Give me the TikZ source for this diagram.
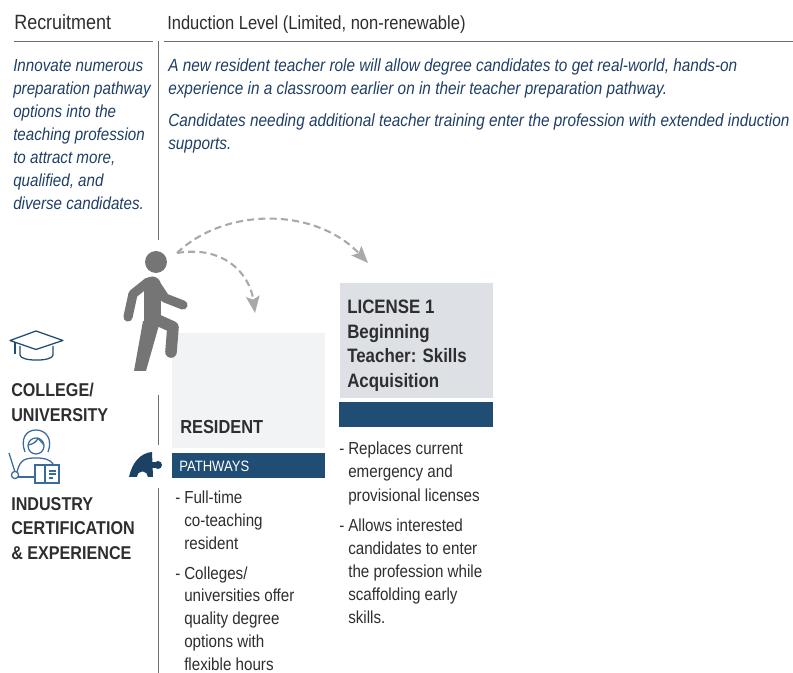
\documentclass[tikz,border=0pt]{standalone}
\usepackage{fontspec}
\setmainfont[FakeStretch=0.87]{Liberation Sans}
\usetikzlibrary{arrows.meta}

\definecolor{navy}{HTML}{204D74}
\definecolor{navytext}{HTML}{1F3F66}
\definecolor{inktext}{HTML}{2E2E30}
\definecolor{walker}{HTML}{757575}
\definecolor{hopline}{HTML}{A7A9AC}
\definecolor{rulegray}{HTML}{6E6E6E}
\definecolor{paleresident}{HTML}{F2F3F5}
\definecolor{palelicense}{HTML}{DDE1E5}
\definecolor{iconblue}{HTML}{3B6B9A}

\newcommand{\dashitem}{\makebox[0.225cm][l]{-}}
\newcommand{\hangitem}{\hspace*{0.225cm}}

\tikzset{
  heading/.style={anchor=north west,inner sep=0pt,align=left,text=inktext},
  intro/.style={anchor=north west,inner sep=0pt,align=left,text=navytext,font=\fontsize{12.4}{16.4}\selectfont\itshape},
  boxtitle/.style={anchor=north west,inner sep=0pt,align=left,text=inktext,font=\fontsize{13.8}{17.4}\selectfont\bfseries},
  sidetitle/.style={boxtitle,font=\fontsize{13.2}{17.5}\selectfont\bfseries},
  listtext/.style={anchor=north west,inner sep=0pt,align=left,text=inktext,font=\fontsize{12.4}{16.4}\selectfont},
  rulerline/.style={draw=rulegray,line width=0.7pt},
  hop/.style={draw=hopline,line width=1.5pt,dash pattern=on 5pt off 3pt,-{Stealth[length=0.42cm,width=0.34cm,inset=0.08cm]}},
  iconline/.style={draw=iconblue,line width=0.9pt},
  capline/.style={draw=navy,line width=0.9pt},
  limb/.style={draw=walker,line cap=round,line join=round}
}

\begin{document}
\begin{tikzpicture}

\useasboundingbox (0,0) rectangle (19.825,16.825);

\draw [rulerline] (0.35,15.8) -- (3.825,15.8);
\draw [rulerline] (4.1,15.8) -- (19.825,15.8);
\draw [rulerline] (3.95,15.8) -- (3.95,10.825);
\draw [rulerline] (3.95,6.95) -- (3.95,5.7);
\draw [rulerline] (3.95,4.62) -- (3.95,0);

\node [heading,font=\fontsize{14.7}{17}\selectfont] (recruitment) at (0.35,16.47) {Recruitment};
\node [heading,font=\fontsize{13.5}{17}\selectfont] (induction) at (4.175,16.45) {Induction Level (Limited, non-renewable)};

\node [intro] (recruitmenttext) at (0.325,15.35) {Innovate numerous\\preparation pathway\\options into the\\teaching profession\\to attract more,\\qualified, and\\diverse candidates.};
\node [intro,font=\fontsize{12.55}{16.4}\selectfont\itshape] (inductiontext) at (4.2,15.37) {A new resident teacher role will allow degree candidates to get real-world, hands-on\\experience in a classroom earlier on in their teacher preparation pathway.\\[0.22cm]Candidates needing additional teacher training enter the profession with extended induction\\supports.};

\fill [paleresident] (4.3,8.5) rectangle (8.125,5.625);
\fill [navy] (4.3,5.5) rectangle (8.125,4.875);
\fill [palelicense] (8.5,9.75) rectangle (12.325,6.875);
\fill [navy] (8.475,6.775) rectangle (12.325,6.15);

\node [boxtitle,font=\fontsize{13.4}{17.4}\selectfont\bfseries] (resident) at (4.5,6.33) {RESIDENT};
\node [anchor=west,inner sep=0pt,text=white,font=\fontsize{10.7}{13}\selectfont] (pathways) at (4.475,5.17) {PATHWAYS};
\node [boxtitle] (license) at (8.675,9.33) {LICENSE 1\\Beginning\\Teacher: Skills\\Acquisition};

\node [listtext,font=\fontsize{12.4}{16.2}\selectfont] (residentlist) at (4.375,4.56) {\dashitem Full-time\\\hangitem co-teaching\\\hangitem resident\\[0.18cm]\dashitem Colleges/\\\hangitem universities offer\\\hangitem quality degree\\\hangitem options with\\\hangitem flexible hours};
\node [listtext] (licenselist) at (8.475,5.775) {\dashitem Replaces current\\\hangitem emergency and\\\hangitem provisional licenses\\[0.18cm]\dashitem Allows interested\\\hangitem candidates to enter\\\hangitem the profession while\\\hangitem scaffolding early\\\hangitem skills.};

\node [sidetitle] (college) at (0.275,7.25) {COLLEGE/\\UNIVERSITY};
\node [sidetitle] (industry) at (0.275,4.4) {INDUSTRY\\CERTIFICATION\\\& EXPERIENCE};

\fill [walker] (3.9,10.275) circle (0.275);
\draw [limb,line width=0.425cm] (3.8,9.7) -- (3.8,8.825);
\draw [limb,line width=0.23cm] (3.7,9.775) -- (3.325,9.475) -- (3.2,8.9);
\draw [limb,line width=0.23cm] (3.925,9.675) -- (4.125,9.375) -- (4.575,9.2);
\draw [limb,line width=0.29cm] (3.825,8.875) -- (4.325,8.65) -- (4.275,8.025);
\fill [walker] (3.575,8.8) -- (3.975,8.7) -- (3.65,7.55) -- (3.35,7.55) -- cycle;

\coordinate (walkerhead) at (4.425,10.5);
\coordinate (residenttip) at (6.375,9);
\coordinate (licensetip) at (9.2,10.25);
\draw [hop] (walkerhead) .. controls (5.625,11.65) and (7.875,11.65) .. (licensetip);
\draw [hop] (walkerhead) .. controls (5.625,10.7) and (6.25,9.95) .. (residenttip);

\draw [capline,line join=round] (0.25,8.3125) -- (0.9,8.55) -- (1.575,8.3125) -- (0.9,8.0875) -- cycle;
\draw [capline] (0.375,8.275) -- (0.375,7.975);
\draw [capline] (0.5,8.175) -- (0.5,7.95) .. controls (0.5,7.78) and (1.325,7.78) .. (1.325,7.95) -- (1.325,8.175);

\draw [iconline] (0.625,5.525) .. controls (0.5,5.85) and (0.65,6.075) .. (0.9,6.075) .. controls (1.15,6.075) and (1.325,5.85) .. (1.2,5.525);
\draw [iconline] (0.9,5.675) circle (0.2);
\draw [iconline] (0.7,5.7) .. controls (0.85,5.72) and (0.92,5.8) .. (0.95,5.87) -- (1.1,5.7);
\draw [iconline] (0.425,5.025) .. controls (0.5,5.35) and (0.65,5.375) .. (0.9,5.375) .. controls (1.1,5.375) and (1.25,5.35) .. (1.35,5.2);
\draw [iconline] (0.225,5.5) -- (0.375,5.025);
\draw [iconline] (0.375,4.95) circle (0.09);
\draw [iconline] (0.46,4.9) -- (0.875,4.9);
\draw [iconline,fill=white] (0.875,5.2) rectangle (1.475,4.75);
\draw [iconline] (1.125,5.2) -- (1.125,4.75);
\fill [iconblue] (1.225,5.075) rectangle (1.4,5.03);
\fill [iconblue] (1.225,4.99) rectangle (1.4,4.945);
\fill [iconblue] (1.225,4.905) rectangle (1.33,4.86);

\fill [navy!85!black] (3.225,4.9) .. controls (3.3,5.25) and (3.5,5.5) .. (3.8,5.525) -- (3.825,4.9) -- (3.7,4.9) arc (0:180:0.14) -- cycle;
\fill [navy!85!black] (3.95,5.2) circle (0.1);
\fill [navy!85!black] (3.75,5.28) rectangle (3.9,5.12);

\end{tikzpicture}
\end{document}
